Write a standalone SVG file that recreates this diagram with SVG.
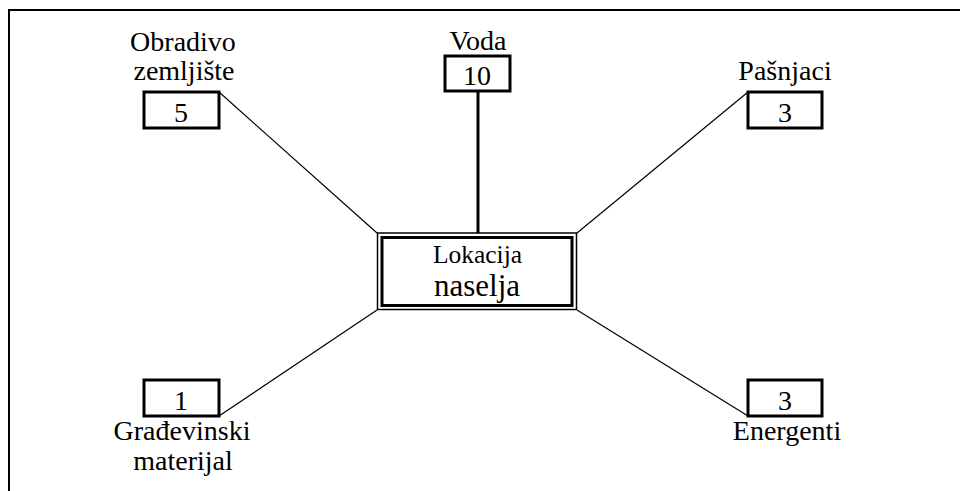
<svg xmlns="http://www.w3.org/2000/svg" width="960" height="491" viewBox="0 0 960 491">
<rect width="960" height="491" fill="#fff"/>
<g id="frame" stroke="#000" stroke-width="2" fill="none">
<path d="M9 491V10H960"/>
</g>
<g id="connectors" stroke="#000" stroke-width="1.2" fill="none">
<line x1="219" y1="92" x2="377" y2="233"/>
<line x1="748" y1="92" x2="577" y2="233"/>
<line x1="219" y1="416" x2="377" y2="310"/>
<line x1="748" y1="416" x2="577" y2="310"/>
<line x1="478" y1="91" x2="478" y2="233" stroke-width="3"/>
</g>
<g id="center">
<rect x="377.5" y="233" width="199" height="76.5" fill="#fff" stroke="#000" stroke-width="1.5"/>
<rect x="382" y="237.5" width="190" height="68" fill="none" stroke="#000" stroke-width="3"/>
<text x="477.5" y="263" font-family="Liberation Serif" font-size="25.5" text-anchor="middle">Lokacija</text>
<text x="477" y="296" font-family="Liberation Serif" font-size="31" text-anchor="middle">naselja</text>
</g>
<g id="obradivo">
<text x="183" y="51" font-family="Liberation Serif" font-size="28" text-anchor="middle">Obradivo</text>
<text x="184" y="80" font-family="Liberation Serif" font-size="28" text-anchor="middle">zemljište</text>
<rect x="144" y="92" width="75" height="36" fill="#fff" stroke="#000" stroke-width="3"/>
<text x="181" y="122" font-family="Liberation Serif" font-size="28" text-anchor="middle">5</text>
</g>
<g id="voda">
<text x="478" y="50" font-family="Liberation Serif" font-size="28" text-anchor="middle">Voda</text>
<rect x="445" y="56" width="65" height="35" fill="#fff" stroke="#000" stroke-width="3"/>
<text x="477" y="85" font-family="Liberation Serif" font-size="28" text-anchor="middle">10</text>
</g>
<g id="pasnjaci">
<text x="785" y="80" font-family="Liberation Serif" font-size="28" text-anchor="middle">Pašnjaci</text>
<rect x="748" y="92" width="74" height="36" fill="#fff" stroke="#000" stroke-width="3"/>
<text x="785" y="122" font-family="Liberation Serif" font-size="28" text-anchor="middle">3</text>
</g>
<g id="gradjevinski">
<rect x="144" y="380" width="75" height="36" fill="#fff" stroke="#000" stroke-width="3"/>
<text x="181" y="410" font-family="Liberation Serif" font-size="28" text-anchor="middle">1</text>
<text x="182" y="440" font-family="Liberation Serif" font-size="28" text-anchor="middle">Građevinski</text>
<text x="183" y="470" font-family="Liberation Serif" font-size="28" text-anchor="middle">materijal</text>
</g>
<g id="energenti">
<rect x="748" y="380" width="74" height="36" fill="#fff" stroke="#000" stroke-width="3"/>
<text x="785" y="410" font-family="Liberation Serif" font-size="28" text-anchor="middle">3</text>
<text x="787" y="440" font-family="Liberation Serif" font-size="28" text-anchor="middle">Energenti</text>
</g>
</svg>
